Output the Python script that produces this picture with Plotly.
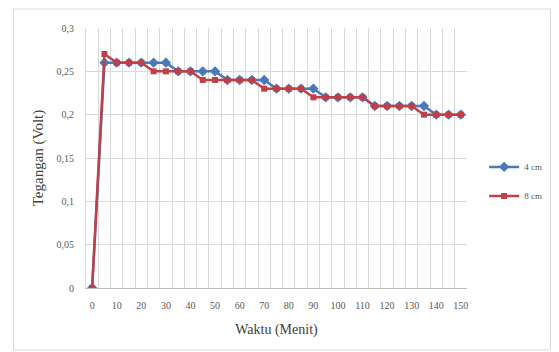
import plotly.graph_objects as go

# Measurement times (minutes) and measured voltages for the two distances
waktu = [0, 5, 10, 15, 20, 25, 30, 35, 40, 45, 50, 55, 60, 65, 70, 75,
         80, 85, 90, 95, 100, 105, 110, 115, 120, 125, 130, 135, 140, 145, 150]
tegangan_4cm = [0, 0.26, 0.26, 0.26, 0.26, 0.26, 0.26, 0.25, 0.25, 0.25, 0.25,
                0.24, 0.24, 0.24, 0.24, 0.23, 0.23, 0.23, 0.23, 0.22, 0.22,
                0.22, 0.22, 0.21, 0.21, 0.21, 0.21, 0.21, 0.20, 0.20, 0.20]
tegangan_8cm = [0, 0.27, 0.26, 0.26, 0.26, 0.25, 0.25, 0.25, 0.25, 0.24, 0.24,
                0.24, 0.24, 0.24, 0.23, 0.23, 0.23, 0.23, 0.22, 0.22, 0.22,
                0.22, 0.22, 0.21, 0.21, 0.21, 0.21, 0.20, 0.20, 0.20, 0.20]
x_ticks = [0, 10, 20, 30, 40, 50, 60, 70, 80, 90, 100, 110, 120, 130, 140, 150]
y_ticks = [0, 0.05, 0.1, 0.15, 0.2, 0.25, 0.3]
y_labels = ["0", "0,05", "0,1", "0,15", "0,2", "0,25", "0,3"]

BLUE = "#4A78B8"
RED = "#C0404A"
FONT = "Liberation Serif, Times New Roman, serif"

fig = go.Figure()
fig.add_trace(go.Scatter(
    x=waktu, y=tegangan_4cm, name="4 cm", mode="lines+markers",
    legendgroup="a",
    line=dict(color=BLUE, width=2.5),
    marker=dict(symbol="diamond", size=8, color=BLUE),
))
fig.add_trace(go.Scatter(
    x=waktu, y=tegangan_8cm, name="8 cm", mode="lines+markers",
    legendgroup="b",
    line=dict(color=RED, width=2.5),
    marker=dict(symbol="square", size=6, color=RED),
))

# category-boundary gridlines halfway between the 5-minute points
grid_x = [-2.5 + 5 * k for k in range(32)]

fig.update_layout(
    width=559, height=352,
    margin=dict(l=86, r=90, t=28, b=64),
    paper_bgcolor="white", plot_bgcolor="white",
    font=dict(family=FONT, size=10, color="#595959"),
    showlegend=True,
    legend=dict(x=1.045, y=0.41, xanchor="left", yanchor="middle",
                font=dict(family=FONT, size=9, color="#595959"),
                tracegroupgap=10, bgcolor="rgba(0,0,0,0)"),
    xaxis=dict(
        range=[-2.5, 152.5], tickmode="array", tickvals=x_ticks,
        showgrid=False, zeroline=False,
        showline=True, linecolor="#BFBFBF", linewidth=1,
        ticks="", ticklabelstandoff=8,
        tickfont=dict(family=FONT, size=10, color="#595959"),
        minor=dict(tickmode="array", tickvals=grid_x, showgrid=True,
                   gridcolor="#D9D9D9", gridwidth=1, ticks=""),
        title=dict(text="Waktu (Menit)",
                   font=dict(family=FONT, size=14, color="#404040"),
                   standoff=14),
    ),
    yaxis=dict(
        range=[0, 0.3], tickmode="array", tickvals=y_ticks, ticktext=y_labels,
        showgrid=True, gridcolor="#D9D9D9", gridwidth=1, zeroline=False,
        showline=True, linecolor="#D9D9D9", linewidth=1,
        ticks="", ticklabelstandoff=9,
        tickfont=dict(family=FONT, size=10, color="#595959"),
        title=dict(text="Tegangan (Volt)",
                   font=dict(family=FONT, size=15, color="#404040"),
                   standoff=9),
    ),
    shapes=[dict(type="rect", xref="paper", yref="paper",
                 x0=-0.19, x1=1.219, y0=-0.238, y1=1.073,
                 line=dict(color="#D9D9D9", width=1), layer="below")],
)

fig.write_html("out.html")
